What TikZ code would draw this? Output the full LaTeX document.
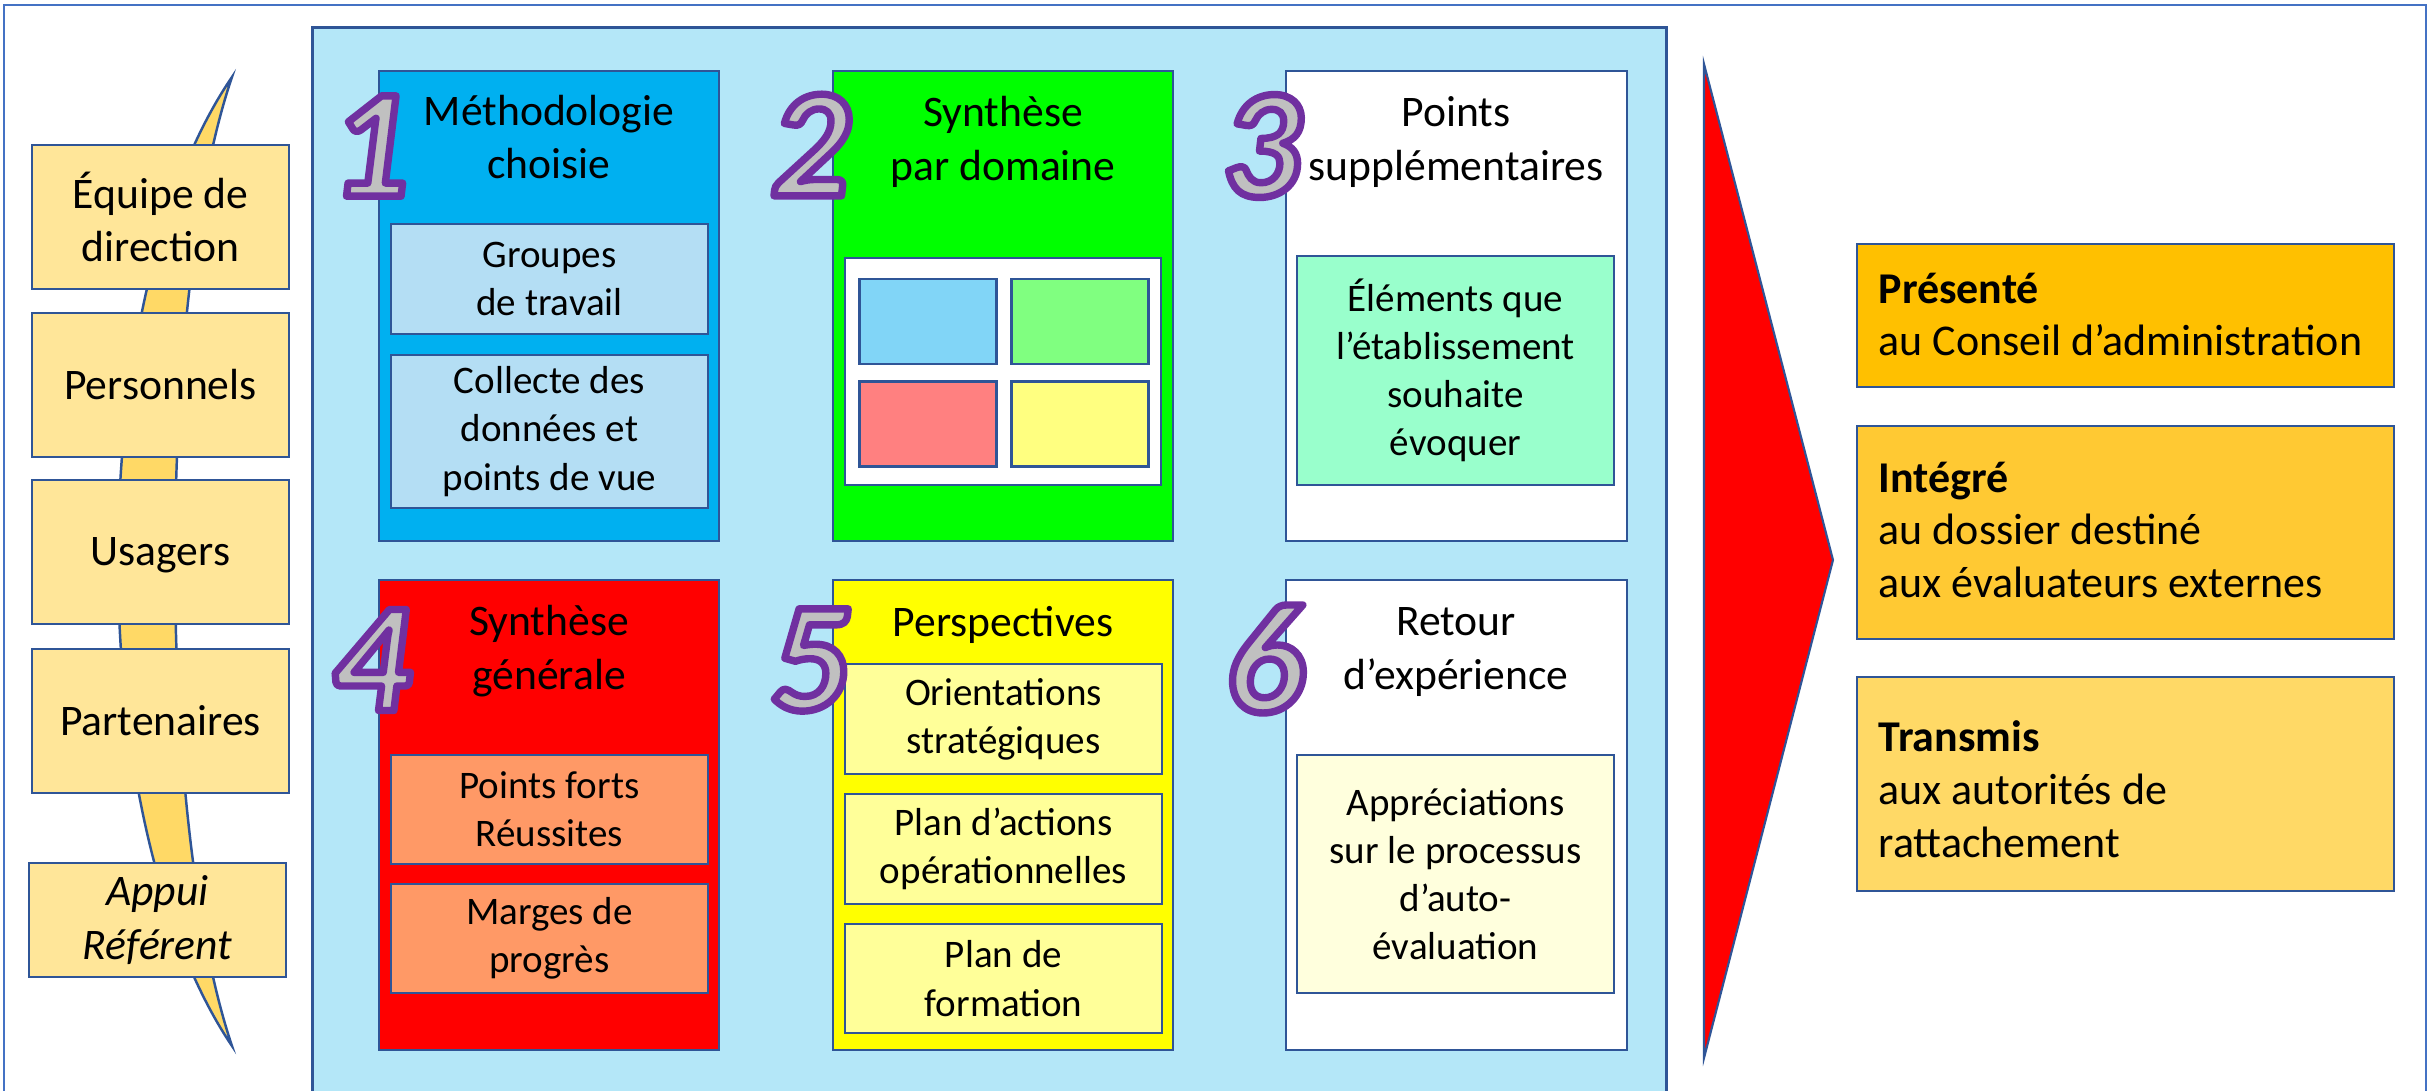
\documentclass[tikz,border=0pt]{standalone}
\usepackage{fontspec}
\setmainfont{Carlito}
\definecolor{frame}{HTML}{4472C4}
\definecolor{bdr}{HTML}{2F5597}
\definecolor{panel}{HTML}{B4E7F8}
\definecolor{band}{HTML}{FFD966}
\definecolor{lbx}{HTML}{FFE699}
\definecolor{cA}{HTML}{00B0F0}
\definecolor{cAi}{HTML}{B4DEF4}
\definecolor{cB}{HTML}{00FF00}
\definecolor{cCi}{HTML}{99FFCC}
\definecolor{cD}{HTML}{FF0000}
\definecolor{cDi}{HTML}{FF9966}
\definecolor{cE}{HTML}{FFFF00}
\definecolor{cEi}{HTML}{FFFF99}
\definecolor{cFi}{HTML}{FFFFDD}
\definecolor{sqA}{HTML}{81D5F7}
\definecolor{sqB}{HTML}{80FF80}
\definecolor{sqC}{HTML}{FF8080}
\definecolor{sqD}{HTML}{FFFF80}
\definecolor{rA}{HTML}{FFC000}
\definecolor{rB}{HTML}{FFC933}
\definecolor{rC}{HTML}{FFD966}
\definecolor{numgray}{HTML}{C0C0C0}
\definecolor{numpurple}{HTML}{7030A0}
\tikzset{
  rbox/.style={draw=bdr, line width=0.7pt, inner sep=0pt, outer sep=0pt},
  lbox/.style={rbox, fill=lbx, minimum width=2.57cm, minimum height=1.44cm, align=center,
    font=\fontsize{12.4}{15.2}\selectfont},
  bigbox/.style={rbox, minimum width=3.40cm, minimum height=4.70cm},
  innbox/.style={rbox, minimum width=3.17cm, align=center, font=\fontsize{11.1}{13.7}\selectfont},
  sqbox/.style={rbox, minimum width=1.37cm, minimum height=0.85cm},
  ttl/.style={inner sep=0pt, align=center, font=\fontsize{12.4}{15.2}\selectfont},
  rtxt/.style={inner sep=0pt, align=left, anchor=north west, font=\fontsize{12.5}{15}\selectfont},
  numf/.style={inner sep=0pt, text=numgray},
}
% big outlined digit: gray fill, purple stroke (PDF text render mode 2)
\newcommand\bignum[4]{%
  \node[numf, font=\fontsize{#4}{44}\selectfont\bfseries\itshape] (#1) at (#2)
    {\special{pdf:literal direct q 2 Tr 2.1 w 1 j 0.439 0.188 0.627 RG}#3\special{pdf:literal direct Q}};
}
\begin{document}
\begin{tikzpicture}[x=0.01cm,y=-0.01cm]
\useasboundingbox (0,0) rectangle (2430,1091);
\clip (0,0) rectangle (2430,1091);
% outer frame and panel
\node[draw=frame, line width=0.6pt, minimum width=24.20cm, minimum height=10.95cm, inner sep=0pt] (frame) at (1215,552.5) {};
\node[rbox, fill=panel, minimum width=13.53cm, minimum height=10.72cm] (panel) at (989.5,564) {};
% curved band
\coordinate (btop) at (232,77);
\coordinate (bbot) at (232,1046);
\draw[draw=bdr, line width=0.7pt, fill=band] (btop) .. controls (80,300) and (80,820) .. (bbot)
  .. controls (156,820) and (156,300) .. (btop) -- cycle;
% left boxes
\node[lbox] (eq) at (160.5,217) {Équipe de\\direction};
\node[lbox] (pers) at (160.5,385) {Personnels};
\node[lbox, text depth=0pt] (usa) at (160.5,552) {Usagers};
\node[lbox] (part) at (160.5,721) {Partenaires};
\node[lbox, minimum height=1.14cm, font=\fontsize{12.4}{15.2}\selectfont\itshape] (appui) at (157.5,920) {Appui\\Référent};
% panel boxes
\node[bigbox, fill=cA] (b1) at (549,306) {};
\node[bigbox, fill=cB] (b2) at (1003,306) {};
\node[bigbox, fill=white, minimum width=3.41cm] (b3) at (1456.5,306) {};
\node[bigbox, fill=cD] (b4) at (549,815) {};
\node[bigbox, fill=cE] (b5) at (1003,815) {};
\node[bigbox, fill=white, minimum width=3.41cm] (b6) at (1456.5,815) {};
% titles
\node[ttl] (t1) at (549,137) {Méthodologie\\choisie};
\node[ttl] (t2) at (1003,142) {Synthèse\\par domaine};
\node[ttl] (t3) at (1456,142) {Points\\supplémentaires};
\node[ttl] (t4) at (549,651) {Synthèse\\générale};
\node[ttl] (t5) at (1003,625) {Perspectives};
\node[ttl] (t6) at (1456,652) {Retour\\d’expérience};
% inner boxes
\node[innbox, fill=cAi, minimum height=1.10cm] (g1) at (549.5,279) {Groupes\\de travail};
\node[innbox, fill=cAi, minimum height=1.53cm] (c1) at (549.5,431.5) {Collecte des\\données et\\points de vue};
\node[rbox, fill=white, minimum width=3.16cm, minimum height=2.27cm] (w2) at (1003,371.5) {};
\node[sqbox, fill=sqA] (sqa) at (928,321.5) {};
\node[sqbox, fill=sqB] (sqb) at (1080,321.5) {};
\node[sqbox, fill=sqC] (sqc) at (928,424) {};
\node[sqbox, fill=sqD] (sqd) at (1080,424) {};
\node[innbox, fill=cCi, minimum height=2.29cm] (e3) at (1455.5,370.5) {Éléments que\\l’établissement\\souhaite\\évoquer};
\node[innbox, fill=cDi, minimum height=1.09cm] (p4) at (549.5,809.5) {Points forts\\Réussites};
\node[innbox, fill=cDi, minimum height=1.09cm] (m4) at (549.5,938.5) {Marges de\\progrès};
\node[innbox, fill=cEi, minimum height=1.10cm] (o5) at (1003.5,719) {Orientations\\stratégiques};
\node[innbox, fill=cEi, minimum height=1.10cm] (a5) at (1003.5,849) {Plan d’actions\\opérationnelles};
\node[innbox, fill=cEi, minimum height=1.09cm] (f5) at (1003.5,978.5) {Plan de\\formation};
\node[innbox, fill=cFi, minimum height=2.38cm] (a6) at (1455.5,874) {Appréciations\\sur le processus\\d’auto-\\évaluation};
% big numbers
\bignum{n1}{370,146}{1}{44}
\bignum{n2}{810,145}{2}{44.1}
\bignum{n3}{1261,146}{3}{44.2}
\bignum{n4}{371,660}{4}{44.3}
\bignum{n5}{810,660}{5}{44.4}
\bignum{n6}{1265,659}{6}{44.5}
% red chevron
\coordinate (ta) at (1704,64);
\coordinate (tb) at (1833,560);
\coordinate (tc) at (1704,1058);
\draw[draw=bdr, line width=0.6pt, fill=cD] (ta) -- (tb) -- (tc) -- cycle;
% right boxes
\node[rbox, fill=rA, minimum width=5.37cm, minimum height=1.43cm] (pr) at (2125.5,315.5) {};
\node[rbox, fill=rB, minimum width=5.37cm, minimum height=2.13cm] (ig) at (2125.5,532.5) {};
\node[rbox, fill=rC, minimum width=5.37cm, minimum height=2.14cm] (tm) at (2125.5,784) {};
\node[rtxt] (prt) at (1878,272) {\textbf{Présenté}\\au Conseil d’administration};
\node[rtxt] (igt) at (1878,461) {\textbf{Intégré}\\au dossier destiné\\aux évaluateurs externes};
\node[rtxt] (tmt) at (1878,720) {\textbf{Transmis}\\aux autorités de\\rattachement};
\end{tikzpicture}
\end{document}
